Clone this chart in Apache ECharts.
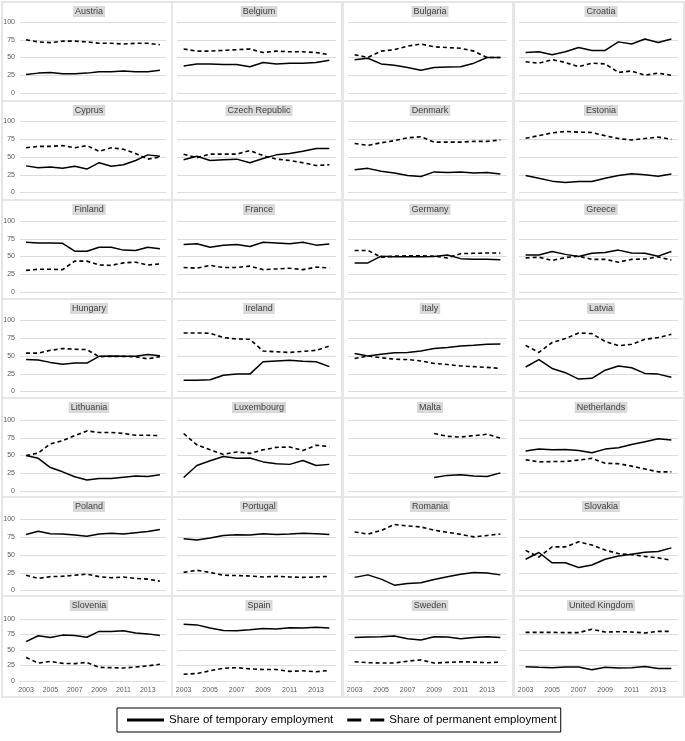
<!DOCTYPE html>
<html>
<head>
<meta charset="utf-8">
<script src="https://cdn.jsdelivr.net/npm/echarts@6/dist/echarts.min.js"></script>
<style>
html,body{margin:0;padding:0;background:#fff;}
#chart{width:685px;height:741px;}
</style>
</head>
<body>
<div id="chart"></div>
<script>
// ---- data ----
const years = ['2003','2004','2005','2006','2007','2008','2009','2010','2011','2012','2013','2014'];
const countries = ['Austria','Belgium','Bulgaria','Croatia','Cyprus','Czech Republic','Denmark','Estonia',
  'Finland','France','Germany','Greece','Hungary','Ireland','Italy','Latvia',
  'Lithuania','Luxembourg','Malta','Netherlands','Poland','Portugal','Romania','Slovakia',
  'Slovenia','Spain','Sweden','United Kingdom'];
const seriesNames = ['Share of temporary employment','Share of permanent employment'];

const AT_temp = [26,28,29,27,27,28,30,30,31,30,30,32];
const AT_perm = [75,72,71,73,73,72,70,70,69,70,70,68];
const BE_temp = [38,41,41,40,40,37,43,41,42,42,43,46];
const BE_perm = [62,59,59,60,61,62,57,59,58,58,57,54];
const BG_temp = [47,49,41,39,36,32,36,36.5,37,42,50,50];
const BG_perm = [54,50,59,61,66,69,65,64,63,59,50,50];
const HR_temp = [57,58,54,58,64,60,60,72,69,76,71,76];
const HR_perm = [44,42,47,43,37,42,41,29,31,25,28,25];
const CY_temp = [37.5,35,36,34,37,33,42,37,39,45,53,51];
const CY_perm = [63,65,65,66,63,66,58,63,61,55,47,50];
const CZ_temp = [46,51,45,46,47,42,48,53,55,58,62,62];
const CZ_perm = [54,49,54,54,54,59,52,47,45,42,38,39];
const DK_temp = [32,34,30,27.5,24,22.5,29,28,29,27.5,28,26];
const DK_perm = [69,66.5,70,73,77,78.5,71,71,71,72,72,74];
const EE_temp = [24,20,16,14,15.5,15.5,20,24,26.5,25,23,26];
const EE_perm = [76.5,80,84,86,85,84.5,80,76,74,76,78,75];
const FI_temp = [70,69,69,68.5,57.5,57.5,63,63,59,58.5,63,61];
const FI_perm = [30.5,32,32,31.5,43.5,43.5,38,37.5,41,42,38,39.5];
const FR_temp = [67,68,63,66,67,64,70,69,68,70,66,67.5];
const FR_perm = [34.5,33.5,37.5,34.5,34.5,36.5,31.5,32.5,33.5,31.5,35,34];
const DE_temp = [41,41,50.5,49.5,49.5,49.5,50,52,47,46,46,45.5];
const DE_perm = [58.5,58.5,49,50.5,51,51,50.5,48,54,54.5,55,55];
const GR_temp = [52,52,57,53,50,54.5,55.5,59,55,54.5,50.5,57];
const GR_perm = [48,49,44.5,48.5,50.5,46,46,42,46,46.5,49.5,45];
const HU_temp = [45,44.5,41,38.5,40,40,49.5,50,49.5,49.5,52,50.5];
const HU_perm = [54,54,58,60.5,59.5,59,49,49.5,49.5,49,46,49];
const IE_temp = [16,16,16.5,23,24.5,24.5,42,43,44,42.5,42,35];
const IE_perm = [82.5,82.5,82,76,74,73.5,57,56,55,56.5,58,64];
const IT_temp = [53.5,50,52.5,54.5,55,57,60.5,62,64,65,66.5,67];
const IT_perm = [46.5,50,47.5,45.5,45,43,39.5,38,36,35,34,32.5];
const LV_temp = [34.5,45,32.5,26.5,17.5,18.5,30,36,33.5,25.5,24.5,20];
const LV_perm = [65,55,69,74.5,82.5,81.5,70.5,64.5,66.5,73.5,76,80.5];
const LT_temp = [50,46,33,27,20,15.5,17.5,17.5,19.5,21,20.5,23];
const LT_perm = [50,53.5,66.5,71,78,84.5,82.5,82.5,81,78.5,78.5,78];
const LU_temp = [19,36,42.5,48.5,46,46.5,41,38.5,37.5,43,36,37.5];
const LU_perm = [81,65,58,51.5,55,53,58,61.5,62,57,64.5,62.5];
const MT_temp = [null,null,null,null,null,null,19,22,23,21,20.5,25.5];
const MT_perm = [null,null,null,null,null,null,81,77,76,78,80,74.5];
const NL_temp = [56.5,59,58,58.5,57,54,59,61,65.5,69.5,73.5,72];
const NL_perm = [44,41,41.5,41.5,43.5,46,39,38.5,35,31,27,27];
const PL_temp = [79,83.5,80,79.5,78,76.5,79.5,80.5,79.5,81.5,83,86];
const PL_perm = [21.5,17,19.5,20,21.5,23,19.5,18,19,17,16,13];
const PT_temp = [73,71,74,77.5,78.5,78,80,79,79.5,80.5,80,79];
const PT_perm = [25.5,28.5,25.5,21.5,21,20.5,19,20,19,18.5,19,20];
const RO_temp = [18.5,22,16,7.5,10,11,15.5,19.5,23,25.5,24.5,22];
const RO_perm = [82.5,79.5,84.5,93,91,89.5,85,82,79,75.5,77.5,79.5];
const SK_temp = [44,53.5,39,39,32.5,36,44,48.5,51,54,55,60];
const SK_perm = [56.5,47,61.5,61.5,68.5,64,57,52,50.5,48,46,42.5];
const SI_temp = [63.5,73,70,74,73.5,70.5,80,80,81,77.5,76,73.5];
const SI_perm = [38,29,31.5,28.5,28,30,22,21.5,21,22.5,24.5,27];
const ES_temp = [91.5,90.5,85.5,81.5,81,82.5,84.5,84,86,85.5,86.5,85.5];
const ES_perm = [11,12,16.5,20.5,21.5,19.5,18.5,18.5,15.5,16.5,15,17];
const SE_temp = [70,71,71.5,72.5,68,66,71.5,71,68,70,71.5,70];
const SE_perm = [31,29.5,29,29,32,34,29,30,31,30.5,29.5,30.5];
const UK_temp = [23,22,21.5,22.5,22.5,18,22,21,21.5,23.5,20,20];
const UK_perm = [78.5,78.5,78.5,78,78,83.5,79,79.5,79,77.5,80,80];

const temporaryData = [AT_temp,BE_temp,BG_temp,HR_temp,CY_temp,CZ_temp,DK_temp,EE_temp,
  FI_temp,FR_temp,DE_temp,GR_temp,HU_temp,IE_temp,IT_temp,LV_temp,
  LT_temp,LU_temp,MT_temp,NL_temp,PL_temp,PT_temp,RO_temp,SK_temp,
  SI_temp,ES_temp,SE_temp,UK_temp];
const permanentData = [AT_perm,BE_perm,BG_perm,HR_perm,CY_perm,CZ_perm,DK_perm,EE_perm,
  FI_perm,FR_perm,DE_perm,GR_perm,HU_perm,IE_perm,IT_perm,LV_perm,
  LT_perm,LU_perm,MT_perm,NL_perm,PL_perm,PT_perm,RO_perm,SK_perm,
  SI_perm,ES_perm,SE_perm,UK_perm];

// ---- layout ----
const colLeft = [2,172,343,514];
const colW = 170;
const rowTops = [2,101,200,299,398,497,596];
const nRows = 7, nCols = 4;
const FONT = 'Liberation Sans';

const grids = [], xAxes = [], yAxes = [], series = [], titles = [], frames = [];
countries.forEach((name, i) => {
  const r = Math.floor(i / nCols), c = i % nCols;
  const last = r === nRows - 1;
  const gLeft = c === 0 ? 20 : colLeft[c] + 5;
  const gWidth = c === 0 ? 146 : 159;
  const gTop = 22 + 99.5 * r;
  const gHeight = last ? 62 : 71;
  grids.push({left: gLeft, top: gTop, width: gWidth, height: gHeight, containLabel: false});
  xAxes.push({
    type: 'category', gridIndex: i, data: years, boundaryGap: true,
    axisLine: {show: false}, axisTick: {show: false},
    axisLabel: {show: last, interval: 1, fontSize: 7, color: '#595959', margin: 6, fontFamily: FONT},
    splitLine: {show: false}
  });
  yAxes.push({
    type: 'value', gridIndex: i, min: 0, max: 100, interval: 25,
    axisLine: {show: false}, axisTick: {show: false},
    axisLabel: {show: c === 0, fontSize: 7, color: '#595959', margin: 5, fontFamily: FONT},
    splitLine: {show: true, lineStyle: {color: '#dcdcdc', width: 1}}
  });
  series.push({
    name: seriesNames[0], type: 'line', xAxisIndex: i, yAxisIndex: i,
    data: temporaryData[i], symbol: 'none', connectNulls: false,
    lineStyle: {color: '#000', width: 1.5, type: 'solid'}, itemStyle: {color: '#000'},
    emphasis: {disabled: true}, silent: true
  });
  series.push({
    name: seriesNames[1], type: 'line', xAxisIndex: i, yAxisIndex: i,
    data: permanentData[i], symbol: 'none', connectNulls: false,
    lineStyle: {color: '#000', width: 1.6, type: [4, 3]}, itemStyle: {color: '#000'},
    emphasis: {disabled: true}, silent: true
  });
  const pTop = rowTops[r];
  const pH = last ? 101 : 99;
  titles.push({
    text: name, left: colLeft[c] + colW / 2, top: pTop + 4, textAlign: 'center',
    padding: [1, 2], backgroundColor: '#d9d9d9',
    textStyle: {fontSize: 9, fontWeight: 'normal', color: '#404040', fontFamily: FONT}
  });
  frames.push({
    type: 'rect', silent: true,
    shape: {x: colLeft[c], y: pTop, width: colW, height: pH},
    style: {fill: 'none', stroke: '#e6e6e6', lineWidth: 2}
  });
});

const chart = echarts.init(document.getElementById('chart'), null, {renderer: 'canvas'});
chart.setOption({
  animation: false,
  backgroundColor: '#fff',
  title: titles,
  grid: grids,
  xAxis: xAxes,
  yAxis: yAxes,
  series: series,
  graphic: frames,
  legend: {
    left: 117, top: 708,
    padding: [6, 4, 6, 10],
    borderColor: '#000', borderWidth: 1,
    itemGap: 14, itemWidth: 37, itemHeight: 3,
    textStyle: {fontSize: 11.5, color: '#000', fontFamily: FONT},
    selectedMode: false,
    itemStyle: {color: '#000', borderWidth: 0},
    data: [
      {name: seriesNames[0], icon: 'path://M0,0L37,0L37,3L0,3Z'},
      {name: seriesNames[1], icon: 'path://M0,0L14,0L14,3L0,3Z M23,0L37,0L37,3L23,3Z'}
    ]
  }
});
</script>
</body>
</html>
